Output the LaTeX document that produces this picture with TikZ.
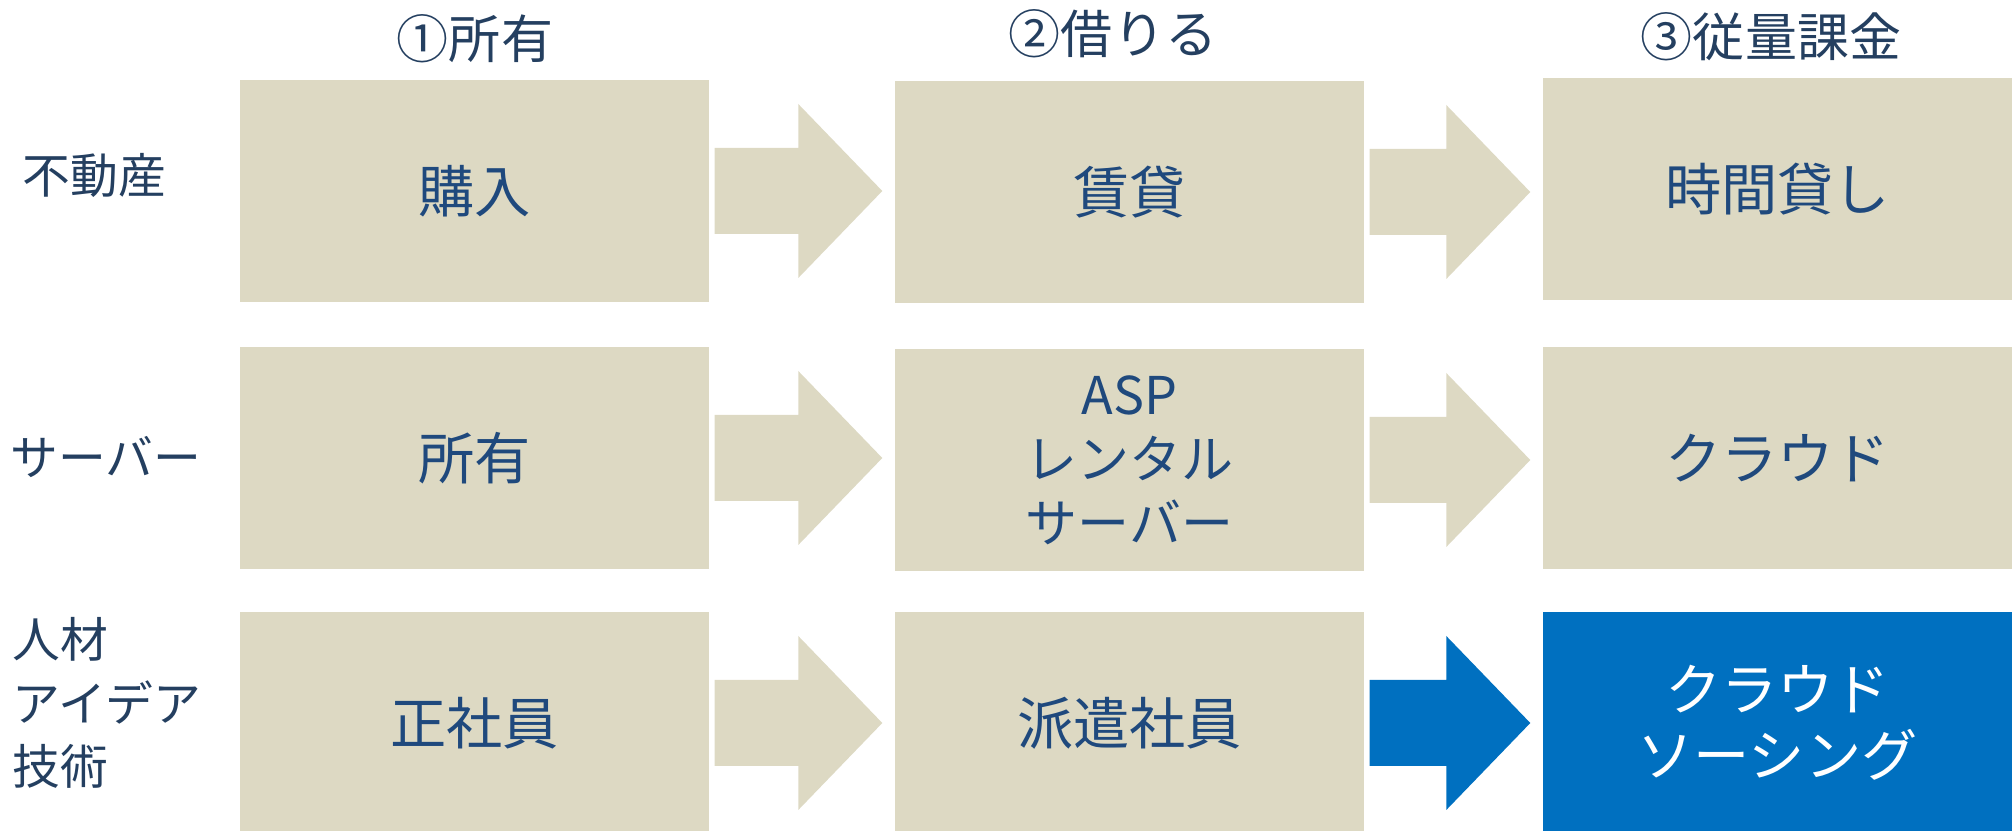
\documentclass[tikz,border=0pt]{standalone}
\usepackage{fontspec}
\setmainfont{Noto Sans CJK JP}
\usetikzlibrary{calc,positioning}
\definecolor{boxtan}{HTML}{DDD9C3}
\definecolor{navytext}{HTML}{1F497D}
\definecolor{labelnavy}{HTML}{243F60}
\definecolor{cloudblue}{HTML}{0070C0}

\tikzset{
    cell/.style={fill=boxtan, text=navytext, minimum width=46.9mm,
        minimum height=22.2mm, inner sep=0pt, align=center,
        font=\fontsize{16}{19}\selectfont},
    rowlabel/.style={text=labelnavy, anchor=west, inner sep=0pt,
        align=left, font=\fontsize{13.6}{18}\selectfont},
    colhead/.style={text=labelnavy, inner sep=0pt,
        font=\fontsize{14.8}{18}\selectfont}
}

% block arrow from the east side of #2 to the west side of #3
\newcommand{\stepArrow}[3][boxtan]{%
    \coordinate (tip) at ($(#3.west |- #2.east)+(-12,0)$);
    \fill[#1] ($(#2.east)+(5,-43)$) -- ($(tip)+(-84,-43)$)
        -- ($(tip)+(-84,-87)$) -- (tip)
        -- ($(tip)+(-84,87)$) -- ($(tip)+(-84,43)$)
        -- ($(#2.east)+(5,43)$) -- cycle;}

\begin{document}
\begin{tikzpicture}[x=0.1mm, y=-0.1mm]
        \useasboundingbox (0,0) rectangle (2015,831);

        \node[colhead] (own) at (475,39) {①所有};
        \node[colhead] (borrow) at (1113,34) {②借りる};
        \node[colhead] (payuse) at (1771,37) {③従量課金};

        \node[rowlabel] (realestate) at (22,175) {不動産};
        \node[rowlabel] (serverlbl) at (10,457) {サーバー};
        \node[rowlabel] (people) at (12,703) {人材\\アイデア\\技術};

        \node[cell] (buy) at (474.5,191) {購入};
        \node[cell] (lease) at (1129.5,192) {賃貸};
        \node[cell] (hourly) at (1777.5,189) {時間貸し};

        \node[cell] (ownsrv) at (474.5,458) {所有};
        \node[cell, font=\fontsize{14.8}{18.2}\selectfont] (asp) at (1129.5,460)
            {ASP\\レンタル\\サーバー};
        \node[cell] (cloud) at (1777.5,458) {クラウド};

        \node[cell] (regular) at (474.5,723) {正社員};
        \node[cell] (dispatch) at (1129.5,723) {派遣社員};
        \node[cell, fill=cloudblue, text=white,
            font=\fontsize{16}{18.8}\selectfont] (crowd) at (1777.5,723)
            {クラウド\\ソーシング};

        \stepArrow{buy}{lease}
        \stepArrow{lease}{hourly}
        \stepArrow{ownsrv}{asp}
        \stepArrow{asp}{cloud}
        \stepArrow{regular}{dispatch}
        \stepArrow[cloudblue]{dispatch}{crowd}

    \end{tikzpicture}
\end{document}
